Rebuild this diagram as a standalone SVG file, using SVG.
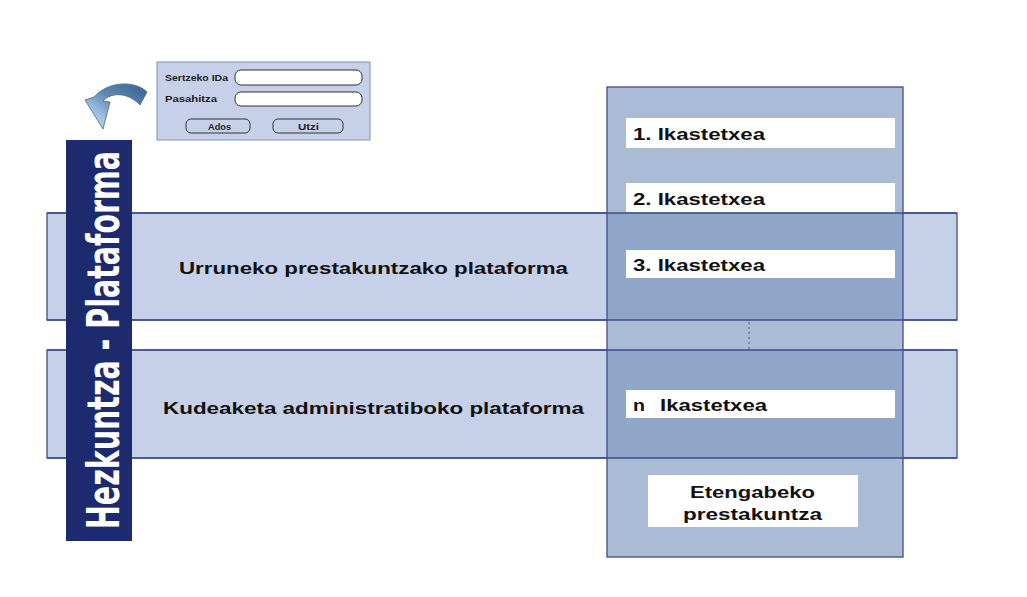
<svg xmlns="http://www.w3.org/2000/svg" width="1027" height="597" viewBox="0 0 1027 597">
<defs>
<style>
.band{fill:#c6d0e8;stroke:#3d4c8e;stroke-width:1.3}
.lbl{font-family:"Liberation Sans",Arial,sans-serif;font-weight:bold;fill:#111;font-size:17px}
.box{fill:#ffffff}
.fld{fill:#ffffff;stroke:#333;stroke-width:1}
.btn{fill:#c6d0e8;stroke:#333;stroke-width:1}
.small{font-family:"Liberation Sans",Arial,sans-serif;font-weight:bold;font-size:9.5px;fill:#222}
.edge{stroke:#3d4c8e;stroke-width:1.3}
</style>
<linearGradient id="arrowGrad" x1="1" y1="0" x2="0" y2="1">
<stop offset="0" stop-color="#35608c"/>
<stop offset="0.45" stop-color="#5f8ab6"/>
<stop offset="0.75" stop-color="#a3c3e6"/>
<stop offset="1" stop-color="#bcd4ee"/>
</linearGradient>
</defs>
<rect width="1027" height="597" fill="#ffffff"/>

<g id="bands">
<rect class="band" x="47" y="213" width="910" height="107"/>
<rect class="band" x="47" y="350" width="910" height="108"/>
</g>

<g id="column">
<rect x="607" y="87" width="296" height="470" fill="#a9bbd5"/>
<rect x="607" y="213" width="296" height="107" fill="#90a6c8"/>
<rect x="607" y="350" width="296" height="108" fill="#90a6c8"/>
<line class="edge" x1="47" y1="213" x2="957" y2="213"/>
<line class="edge" x1="47" y1="320" x2="957" y2="320"/>
<line class="edge" x1="47" y1="350" x2="957" y2="350"/>
<line class="edge" x1="47" y1="458" x2="957" y2="458"/>
<rect x="607" y="87" width="296" height="470" fill="none" stroke="#3d4c8e" stroke-width="1.3"/>
</g>

<g id="band-labels">
<text class="lbl" x="179" y="274" textLength="389" lengthAdjust="spacingAndGlyphs">Urruneko prestakuntzako plataforma</text>
<text class="lbl" x="163" y="414" textLength="421" lengthAdjust="spacingAndGlyphs">Kudeaketa administratiboko plataforma</text>
</g>

<g id="school1"><rect class="box" x="626" y="118" width="269" height="30"/><text class="lbl" x="633" y="140" textLength="132" lengthAdjust="spacingAndGlyphs">1. Ikastetxea</text></g>
<g id="school2"><rect class="box" x="626" y="183" width="269" height="29"/><text class="lbl" x="633" y="205" textLength="132" lengthAdjust="spacingAndGlyphs">2. Ikastetxea</text></g>
<g id="school3"><rect class="box" x="626" y="250" width="269" height="28"/><text class="lbl" x="633" y="271" textLength="132" lengthAdjust="spacingAndGlyphs">3. Ikastetxea</text></g>
<g id="connectors"><line x1="749" y1="322" x2="749" y2="349" stroke="#6a7a9a" stroke-width="1.5" stroke-dasharray="2,3"/></g>
<g id="schooln"><rect class="box" x="626" y="390" width="269" height="28"/><text class="lbl" x="633" y="411"><tspan x="633" textLength="12" lengthAdjust="spacingAndGlyphs">n</tspan><tspan x="660" textLength="107" lengthAdjust="spacingAndGlyphs">Ikastetxea</tspan></text></g>
<g id="continuous"><rect class="box" x="648" y="475" width="210" height="52"/>
<text class="lbl" x="690" y="498" textLength="125" lengthAdjust="spacingAndGlyphs">Etengabeko</text>
<text class="lbl" x="683" y="520" textLength="139" lengthAdjust="spacingAndGlyphs">prestakuntza</text></g>

<g id="platform-bar">
<rect x="66" y="140" width="66" height="401" fill="#1d2a6e"/>
<text transform="translate(119,529) rotate(-90)" font-family="'DejaVu Sans Condensed','Liberation Sans',sans-serif" font-weight="bold" font-size="45" fill="#ffffff" textLength="378" lengthAdjust="spacingAndGlyphs">Hezkuntza - Plataforma</text>
</g>

<g id="login">
<rect x="157" y="62" width="213" height="78" fill="#c6d0e8" stroke="#8090bb" stroke-width="1"/>
<text class="small" x="165" y="81" textLength="63" lengthAdjust="spacingAndGlyphs">Sertzeko IDa</text>
<text class="small" x="165" y="102" textLength="52" lengthAdjust="spacingAndGlyphs">Pasahitza</text>
<rect class="fld" x="235" y="70" width="127" height="15" rx="6"/>
<rect class="fld" x="235" y="92" width="127" height="14" rx="6"/>
<rect class="btn" x="186" y="119" width="64" height="14" rx="5"/>
<rect class="btn" x="273" y="119" width="70" height="14" rx="5"/>
<text class="small" x="208" y="130" textLength="23" lengthAdjust="spacingAndGlyphs">Ados</text>
<text class="small" x="298" y="130" textLength="21" lengthAdjust="spacingAndGlyphs">Utzi</text>
</g>

<g id="arrow">
<path d="M147,92 C135,80 108,81 94,97 L85,100 L103,129 L110,102 L103,101 C111,92 128,92 140,105 Z" fill="url(#arrowGrad)" stroke="#4a6688" stroke-width="0.8"/>
</g>
</svg>
